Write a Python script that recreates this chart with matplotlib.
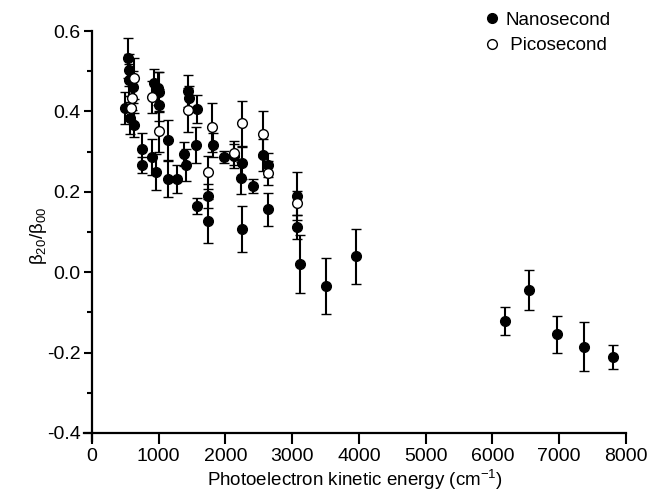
import matplotlib
matplotlib.use("Agg")
import matplotlib.pyplot as plt
from matplotlib.lines import Line2D
from matplotlib.ticker import MultipleLocator

plt.rcParams['font.family'] = ['Liberation Sans', 'DejaVu Sans']
plt.rcParams['mathtext.fontset'] = 'custom'
plt.rcParams['mathtext.rm'] = 'Liberation Sans'
plt.rcParams['mathtext.it'] = 'Liberation Sans:italic'

# Nanosecond data: energy (cm^-1), beta20/beta00, error
ns_x = [545, 560, 550, 610, 500, 575, 625, 745, 745, 900, 960, 925, 985, 1010, 1010,
        1145, 1145, 1270, 1375, 1410, 1435, 1450, 1575, 1560, 1575, 1735, 1735, 1810,
        1975, 2125, 2245, 2235, 2245, 2410, 2570, 2645, 2645, 3075, 3075, 3110, 3510,
        3950, 6185, 6545, 6975, 7375, 7810]
ns_y = [0.532, 0.503, 0.478, 0.461, 0.408, 0.383, 0.366, 0.306, 0.267, 0.287, 0.250,
        0.470, 0.457, 0.449, 0.416, 0.329, 0.232, 0.232, 0.293, 0.267, 0.451, 0.433,
        0.405, 0.316, 0.165, 0.190, 0.128, 0.316, 0.287, 0.289, 0.271, 0.234, 0.107,
        0.215, 0.292, 0.267, 0.156, 0.190, 0.113, 0.020, -0.034, 0.039, -0.121, -0.044,
        -0.155, -0.185, -0.210]
ns_err = [0.05, 0.04, 0.04, 0.04, 0.04, 0.04, 0.03, 0.04, 0.02, 0.045, 0.045, 0.035,
          0.04, 0.05, 0.04, 0.05, 0.045, 0.035, 0.03, 0.04, 0.04, 0.03, 0.035, 0.045,
          0.02, 0.03, 0.055, 0.03, 0.015, 0.03, 0.04, 0.04, 0.058, 0.018, 0.04, 0.03,
          0.04, 0.06, 0.03, 0.072, 0.069, 0.069, 0.035, 0.05, 0.047, 0.06, 0.03]

# Picosecond data
ps_x = [635, 600, 590, 900, 1000, 1435, 1735, 1800, 2135, 2245, 2570, 2645, 3075]
ps_y = [0.482, 0.433, 0.408, 0.435, 0.350, 0.404, 0.248, 0.360, 0.297, 0.370, 0.344,
        0.246, 0.173]
ps_err = [0.05, 0.03, 0.03, 0.04, 0.05, 0.055, 0.04, 0.06, 0.03, 0.057, 0.058, 0.03, 0.03]

fig = plt.figure(figsize=(6.52, 4.96), dpi=100)
ax = fig.add_axes([0.1288, 0.1109, 0.831, 0.8266])

ekw = dict(fmt='o', ecolor='black', elinewidth=1.5, capsize=3.8, capthick=1.8,
           markersize=7, markeredgewidth=1.0, markeredgecolor='black')
ax.errorbar(ns_x, ns_y, yerr=ns_err, markerfacecolor='black', zorder=3, **ekw)
ax.errorbar(ps_x, ps_y, yerr=ps_err, markerfacecolor='white', zorder=4, **ekw)

ax.set_xlim(-120, 8000)
ax.set_ylim(-0.42, 0.6)
ax.spines['top'].set_visible(False)
ax.spines['right'].set_visible(False)
ax.spines['left'].set_position(('data', 0))
ax.spines['bottom'].set_position(('data', -0.4))
for s in ('left', 'bottom'):
    ax.spines[s].set_linewidth(1.6)

ax.xaxis.set_major_locator(MultipleLocator(1000))
ax.yaxis.set_major_locator(MultipleLocator(0.2))
ax.yaxis.set_minor_locator(MultipleLocator(0.1))
ax.tick_params(axis='x', which='major', direction='out', length=8, width=1.5, labelsize=14, pad=3)
ax.tick_params(axis='y', which='major', direction='out', length=6, width=1.5, labelsize=14, pad=2)
ax.tick_params(axis='y', which='minor', direction='out', length=3.5, width=1.5)
ax.set_yticks([-0.4, -0.2, 0.0, 0.2, 0.4, 0.6])
ax.set_yticklabels(['-0.4', '-0.2', '0.0', '0.2', '0.4', '0.6'])
ax.set_xticks([0, 1000, 2000, 3000, 4000, 5000, 6000, 7000, 8000])

ax.set_xlabel(r'Photoelectron kinetic energy (cm$^{-1}$)', fontsize=13.5, labelpad=2)
ax.set_ylabel(r'β$_{20}$/β$_{00}$', fontsize=13.5, labelpad=-1)

handles = [Line2D([], [], marker='o', linestyle='none', markersize=7,
                  markerfacecolor='black', markeredgecolor='black'),
           Line2D([], [], marker='o', linestyle='none', markersize=7,
                  markerfacecolor='white', markeredgecolor='black')]
fig.legend(handles, ['Nanosecond', ' Picosecond'], loc='upper left',
           bbox_to_anchor=(0.72, 1.003), frameon=False, fontsize=13.5,
           handlelength=1.0, handletextpad=0.2, labelspacing=0.45, borderpad=0.2)

fig.savefig('out.png', dpi=100)
